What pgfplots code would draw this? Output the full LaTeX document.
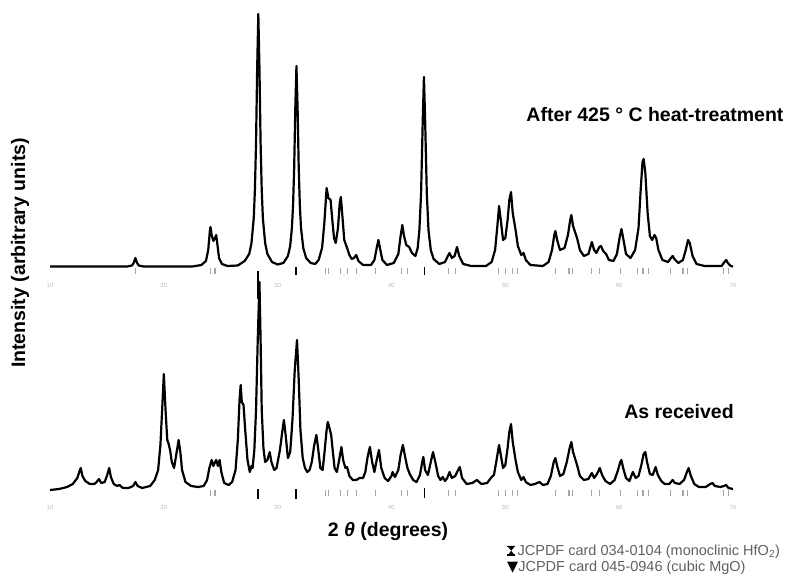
\documentclass[border=0pt]{standalone}
\usepackage{fontspec}
\setmainfont{Liberation Sans}
\newfontfamily\symfont{DejaVu Sans}
\usepackage{pgfplots}
\pgfplotsset{compat=1.18}

\pgfplotsset{
  xrd/.style={
    scale only axis,
    width=683pt,
    xmin=10, xmax=70,
    axis line style={draw=none},
    ytick=\empty,
    xtick={10,20,...,70},
    major tick length=0pt,
    tick label style={font=\fontsize{6}{7}\selectfont, text=gray!55},
    /pgf/number format/assume math mode=true,
    clip=false,
  },
  pattern/.style={black, line width=2.2pt, line join=round},
  hfo2/.style={only marks, mark=|, mark size=3pt, gray!70, line width=1.2pt},
  mgo/.style={only marks, mark=|, mark size=4pt, black, line width=1.8pt},
}

% hourglass glyph for the legend (no installed font has U+29D7)
\newcommand{\hourglass}{\tikz[baseline=0pt]{
  \fill (0pt,0pt) -- (8pt,0pt) -- (0pt,10pt) -- (8pt,10pt) -- cycle;
  \fill (0pt,0pt) rectangle (8pt,1.5pt);
  \fill (0pt,8.5pt) rectangle (8pt,10pt);}}

% after 425 C heat-treatment
\pgfplotstableread{
x y
10.0 1.5
13.0 1.5
16.8 1.5
17.2 2.5
17.35 5
17.5 10
17.65 5
17.8 2.5
18.2 1.5
22.5 1.5
23.3 3
23.7 7
23.9 18
24.05 38
24.1 41
24.2 33
24.35 27
24.5 30
24.6 33
24.7 24
24.85 10
25.1 4
25.6 2
26.5 2.5
27.1 7
27.5 14
27.7 25
27.9 50
28.0 78
28.1 125
28.2 200
28.3 254
28.4 200
28.5 125
28.6 78
28.7 50
28.9 25
29.1 14
29.5 6
30.0 3.5
30.5 5
30.9 12
31.1 22
31.25 40
31.35 62
31.45 100
31.55 160
31.65 202
31.75 160
31.85 100
31.95 62
32.05 40
32.25 20
32.5 10
32.9 5
33.3 4
33.6 8
33.9 20
34.1 45
34.3 80
34.45 70
34.65 68
34.8 48
34.95 30
35.1 25
35.3 40
35.45 65
35.55 71
35.7 50
35.85 28
36.1 20
36.3 13
36.5 9
36.7 10
36.9 13
37.1 7
37.5 3
38.2 3
38.5 8
38.7 20
38.85 28
39.0 19
39.2 8
39.6 3
40.2 5
40.6 14
40.8 32
40.95 43
41.1 32
41.3 23
41.55 21
41.8 15
42.1 12
42.3 20
42.45 38
42.6 75
42.75 150
42.85 191
42.95 150
43.1 75
43.25 38
43.45 18
43.7 9
44.2 4
44.7 6
44.95 12
45.1 15
45.3 10
45.55 12
45.75 21
45.95 12
46.3 4
47.0 2
48.3 2
48.8 6
49.1 18
49.3 42
49.45 62
49.6 48
49.8 28
50.0 30
50.2 48
50.35 68
50.5 76
50.65 55
50.9 38
51.1 22
51.4 13
51.6 15
51.8 8
52.2 3
53.3 2
53.8 6
54.1 18
54.3 33
54.4 37
54.55 28
54.8 18
55.2 20
55.5 33
55.7 48
55.8 53
55.95 42
56.3 30
56.55 18
56.9 12
57.3 14
57.6 26
57.8 18
58.0 15
58.25 21
58.4 22
58.6 17
58.85 14
59.1 8
59.5 7
59.8 14
60.05 31
60.2 39
60.35 30
60.6 14
61.0 10
61.4 18
61.7 40
61.9 80
62.05 106
62.15 109
62.3 95
62.5 55
62.7 32
62.9 28
63.1 33
63.25 30
63.45 18
63.8 8
64.3 6
64.55 10
64.7 12
64.85 9
65.2 5
65.6 8
65.85 18
66.05 28
66.2 25
66.45 12
66.8 4
67.5 2
69.0 2
69.25 6
69.4 8
69.55 5
69.8 2
70.0 1.5
}\heated

% as received
\pgfplotstableread{
x y
10.0 0
10.8 1
11.5 3
12.0 6
12.4 12
12.6 19
12.7 22
12.85 14
13.1 9
13.5 6
13.9 6
14.1 8
14.3 11
14.5 7
14.8 8
15.0 14
15.2 22
15.35 13
15.6 6
15.9 4
16.1 5
16.4 2
16.9 2
17.3 4
17.5 8
17.7 4
18.1 2
18.8 4
19.2 10
19.5 20
19.7 45
19.85 80
20.0 116
20.15 80
20.3 50
20.4 47
20.55 40
20.7 28
20.9 22
21.1 36
21.3 50
21.45 38
21.6 20
21.9 8
22.4 4
23.0 3
23.5 4
23.8 10
24.0 22
24.2 30
24.35 24
24.5 28
24.6 30
24.75 24
24.9 30
25.05 18
25.3 7
25.7 5
26.0 8
26.3 20
26.5 50
26.65 90
26.75 105
26.85 88
27.0 85
27.15 60
27.35 30
27.55 18
27.7 24
27.8 22
27.95 40
28.1 80
28.25 150
28.4 208
28.5 150
28.6 80
28.75 42
28.9 28
29.1 30
29.3 38
29.45 28
29.7 20
29.9 22
30.2 40
30.4 58
30.55 70
30.7 55
30.9 32
31.1 38
31.3 70
31.5 120
31.7 150
31.85 110
32.0 60
32.2 32
32.4 22
32.6 18
32.8 20
33.0 28
33.2 44
33.4 55
33.55 42
33.75 22
33.95 20
34.1 36
34.3 60
34.4 68
34.55 62
34.7 55
34.85 38
35.0 22
35.2 18
35.4 30
35.6 43
35.75 30
35.95 22
36.1 23
36.3 14
36.6 10
36.9 10
37.2 12
37.5 12
37.7 18
37.9 33
38.1 43
38.3 28
38.5 18
38.7 30
38.9 40
39.1 22
39.4 12
39.7 9
40.0 14
40.1 18
40.3 13
40.6 20
40.8 35
41.0 45
41.2 33
41.4 22
41.6 16
41.9 10
42.2 8
42.5 15
42.7 28
42.8 33
42.95 20
43.2 15
43.45 28
43.65 38
43.85 28
44.1 14
44.3 10
44.5 13
44.7 9
44.9 12
45.1 18
45.3 12
45.6 14
45.85 20
46.0 23
46.2 12
46.6 6
47.1 7
47.5 10
47.9 6
48.4 7
48.8 13
49.0 15
49.2 28
49.45 45
49.6 35
49.8 22
50.0 25
50.2 42
50.35 58
50.5 66
50.65 48
50.9 30
51.1 18
51.4 10
51.6 13
51.8 8
52.2 5
52.6 6
53.0 8
53.3 5
53.7 6
54.0 14
54.25 28
54.4 32
54.55 24
54.8 14
55.1 16
55.4 28
55.65 42
55.8 48
55.95 38
56.3 25
56.55 14
56.9 10
57.3 11
57.6 17
57.8 12
58.05 16
58.3 22
58.5 15
58.8 9
59.2 6
59.6 10
59.9 20
60.1 28
60.2 30
60.35 22
60.6 12
60.9 9
61.2 18
61.45 12
61.7 14
61.95 25
62.15 36
62.3 38
62.45 28
62.7 16
62.95 15
63.2 23
63.4 15
63.7 9
64.0 6
64.4 6
64.7 10
64.9 7
65.3 6
65.7 10
65.95 18
66.1 22
66.3 14
66.6 6
67.0 3
67.6 3
68.0 6
68.2 7
68.4 4
68.9 3
69.2 4
69.4 5
69.6 2
70.0 1
}\received

\begin{document}
\begin{tikzpicture}
\path[use as bounding box] (0pt,0pt) rectangle (790pt,584pt);

\begin{axis}[xrd, at={(50pt,304pt)}, anchor=south west,
  height=272pt, ymin=-12, ymax=260]
  \addplot[pattern] table {\heated};
  \addplot[hfo2] coordinates {
    (17.5,-3) (24.1,-3) (24.5,-3) (34.2,-3) (34.5,-3) (35.5,-3) (36.1,-3)
    (36.9,-3) (38.6,-3) (40.9,-3) (41.4,-3) (45.0,-3) (45.6,-3) (49.4,-3)
    (50.0,-3) (50.6,-3) (51.1,-3) (54.4,-3) (55.6,-3) (55.9,-3) (57.6,-3)
    (58.3,-3) (60.1,-3) (61.6,-3) (62.1,-3) (62.6,-3) (64.5,-3) (65.6,-3)
    (66.0,-3) (69.2,-3) (69.6,-3)};
  \addplot[mgo] coordinates {(31.6,-3) (42.9,-3)};
  \addplot[mgo, mark size=14pt] coordinates {(28.3,-17)};
\end{axis}

\begin{axis}[xrd, at={(50pt,82pt)}, anchor=south west,
  height=227pt, ymin=-12, ymax=215]
  \addplot[pattern] table {\received};
  \addplot[hfo2] coordinates {
    (24.1,-3) (24.5,-3) (34.2,-3) (34.5,-3) (35.5,-3) (36.1,-3)
    (36.9,-3) (38.6,-3) (40.9,-3) (41.4,-3) (45.0,-3) (45.6,-3) (49.4,-3)
    (50.0,-3) (50.6,-3) (51.1,-3) (54.4,-3) (55.6,-3) (55.9,-3) (57.6,-3)
    (58.3,-3) (60.1,-3) (61.6,-3) (62.1,-3) (62.6,-3) (64.5,-3) (65.6,-3)
    (66.0,-3) (69.2,-3) (69.6,-3)};
  \addplot[mgo, mark size=5pt] coordinates {(28.3,-4) (31.6,-4) (42.9,-3)};
\end{axis}

\node[font=\fontsize{19.5}{22}\selectfont\bfseries] at (655pt,469pt)
  {After 425 ° C heat-treatment};
\node[font=\fontsize{19.5}{22}\selectfont\bfseries] at (679pt,172pt)
  {As received};
\node[font=\fontsize{19.5}{22}\selectfont\bfseries] at (388pt,52pt)
  {2 {\itshape θ} (degrees)};
\node[font=\fontsize{19.5}{22}\selectfont\bfseries, rotate=90] at (20pt,331pt)
  {Intensity (arbitrary units)};
\node[anchor=west, font=\fontsize{14.5}{16}\selectfont, text=gray!75!black,
  inner sep=0pt] at (507pt,32pt)
  {\textcolor{black}{\hourglass}\,JCPDF card 034-0104 (monoclinic HfO\textsubscript{2})};
\node[anchor=west, font=\fontsize{14.5}{16}\selectfont, text=gray!75!black,
  inner sep=0pt] at (507pt,16pt)
  {{\symfont\color{black}▼}JCPDF card 045-0946 (cubic MgO)};
\end{tikzpicture}
\end{document}
